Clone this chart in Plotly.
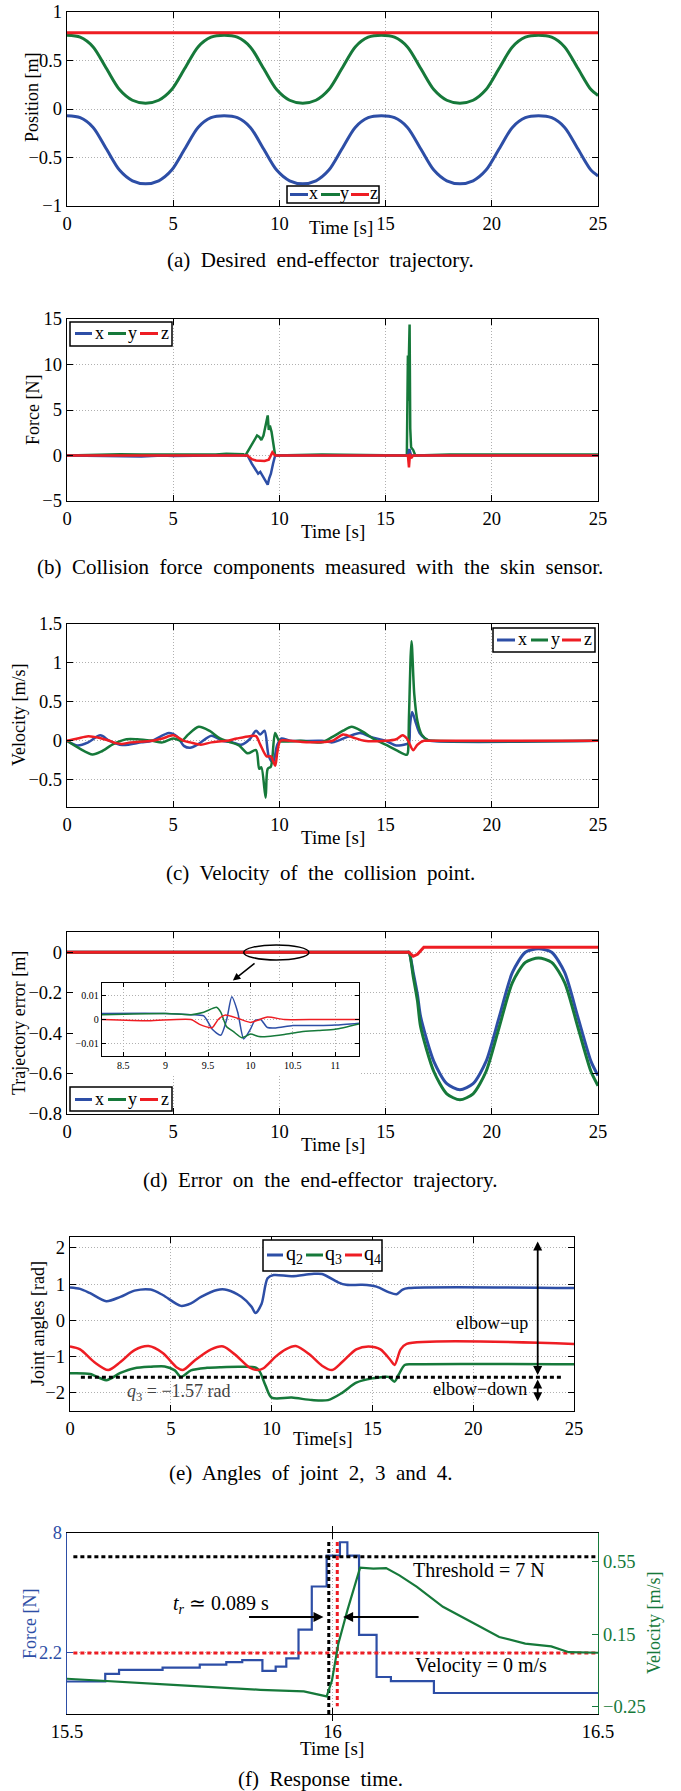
import plotly.graph_objects as go

W, H = 681, 1791
FONT = "Liberation Serif, Times New Roman, serif"
BLUE = "#2d4ea6"
GREEN = "#16793a"
RED = "#ee1d23"
GRID = "#b0b0b0"

# ---------------- (a) desired trajectory ----------------
ta = [0, 0.62, 1.23, 1.85, 2.47, 3.08, 3.70, 4.32, 4.93, 5.55, 6.17, 6.78,
      7.40, 8.02, 8.63, 9.25, 9.87, 10.48, 11.10, 11.72, 12.33, 12.95, 13.57, 14.18,
      14.80, 15.42, 16.03, 16.65, 17.27, 17.88, 18.50, 19.12, 19.73, 20.35, 20.97, 21.58,
      22.20, 22.82, 23.43, 24.05, 24.67, 25.0]
ya_y = [0.76, 0.74, 0.64, 0.42, 0.20, 0.09, 0.06, 0.09, 0.20, 0.42, 0.64, 0.74,
        0.76, 0.74, 0.64, 0.42, 0.20, 0.09, 0.06, 0.09, 0.20, 0.42, 0.64, 0.74,
        0.76, 0.74, 0.64, 0.42, 0.20, 0.09, 0.06, 0.09, 0.20, 0.42, 0.64, 0.74,
        0.76, 0.74, 0.64, 0.42, 0.20, 0.14]
ya_x = [-0.07, -0.09, -0.19, -0.41, -0.63, -0.74, -0.77, -0.74, -0.63, -0.41, -0.19, -0.09,
        -0.07, -0.09, -0.19, -0.41, -0.63, -0.74, -0.77, -0.74, -0.63, -0.41, -0.19, -0.09,
        -0.07, -0.09, -0.19, -0.41, -0.63, -0.74, -0.77, -0.74, -0.63, -0.41, -0.19, -0.09,
        -0.07, -0.09, -0.19, -0.41, -0.63, -0.69]
ta_z = [0, 25]
ya_z = [0.785, 0.785]

# ---------------- (b) collision force ----------------
fb_tx = [0, 2.5, 3.5, 4.5, 5.0, 7.0, 8.5, 8.7, 8.9, 9.0, 9.1, 9.2, 9.35, 9.45, 9.52, 9.6, 9.7, 9.8,
         10.5, 16.05, 16.12, 16.2, 25]
fb_x = [0, -0.1, -0.1, 0, -0.05, 0, 0, -0.9, -1.6, -2.0, -1.8, -2.2, -2.9, -3.2, -2.5, -2.0, -0.9, 0,
        0, 0, 0.7, 0, 0]
fb_ty = [0, 2.5, 3.5, 4.5, 5.5, 7.0, 7.5, 8.3, 8.4, 8.6, 8.8, 8.95, 9.05, 9.15, 9.25, 9.35, 9.45,
         9.5, 9.55, 9.63, 9.72, 9.8, 12.0, 16.0, 16.05, 16.08, 16.1, 16.13, 16.16, 16.2, 16.3,
         16.4, 18.0, 25]
fb_y = [0, 0.15, 0.1, 0.1, 0.1, 0.1, 0.2, 0.15, 0, 0.8, 1.5, 2.2, 2.05, 1.7, 2.2, 3.5, 4.4,
        2.8, 3.3, 2.6, 0.95, 0, 0.1, 0, 11.0, 6.0, 11.2, 14.4, 3.0, 0.9, 0.6,
        0, 0.1, 0.1]
fb_tz = [0, 8.5, 8.7, 8.9, 9.3, 9.5, 9.67, 9.8, 16.05, 16.1, 16.15, 16.2, 16.3, 25]
fb_z = [0, 0, -0.4, -0.55, -0.6, -0.45, 0.35, 0, 0, -1.3, 0.2, -0.3, 0, 0]

# ---------------- (c) velocity ----------------
vc_tx = [0, 0.5, 1.0, 1.57, 2.0, 2.6, 3.5, 4.0, 4.8, 5.2, 5.5, 5.8, 6.2, 6.8, 7.3, 7.8, 8.2,
         8.6, 8.9, 9.1, 9.3, 9.5, 9.7, 9.9, 10.1, 10.5, 12.0, 12.5, 13.2, 13.8, 14.3, 15.0,
         15.5, 16.0, 16.1, 16.15, 16.25, 16.4, 16.6, 16.9, 17.1, 25]
vc_x = [0, -0.06, -0.02, 0.07, 0, -0.055, -0.02, 0, 0.10, 0.05, -0.065, -0.09, -0.04, 0.065, 0,
        -0.02, -0.05, 0.02, 0.13, 0.08, 0.13, -0.2, -0.28, -0.05, 0.03, 0, 0, -0.02, 0.05, 0.10,
        0.05, 0, -0.06, -0.04, -0.03, 0.2, 0.37, 0.25, 0.10, 0.02, 0, 0]
vc_ty = [0, 0.6, 1.2, 1.6, 2.2, 2.8, 3.3, 4.0, 4.5, 5.0, 5.4, 5.7, 6.2, 6.7, 7.2, 7.6, 8.1, 8.5,
         8.9, 9.05, 9.15, 9.35, 9.45, 9.6, 9.8, 10.0, 11.0, 12.0, 12.5, 13.0, 13.4, 13.9, 14.4,
         15.0, 15.5, 16.0, 16.05, 16.1, 16.22, 16.35, 16.5, 16.7, 17.0, 17.3, 25]
vc_y = [0, -0.1, -0.175, -0.14, -0.04, 0.02, 0.02, 0, -0.02, 0.03, 0.0, 0.08, 0.18, 0.13, 0.03,
        -0.01, -0.06, -0.16, -0.12, -0.36, -0.34, -0.73, -0.36, -0.33, 0.1, 0, 0, -0.02, 0.05,
        0.13, 0.18, 0.12, 0.03, -0.05, -0.12, -0.18, -0.15, 0.3, 1.28, 0.6, 0.25, 0.08, 0.01,
        0, 0]
vc_tz = [0, 0.5, 1.0, 1.5, 2.0, 2.3, 2.6, 3.0, 4.0, 4.5, 5.0, 5.5, 5.8, 6.3, 6.8, 7.5, 8.0,
         8.6, 8.9, 9.1, 9.4, 9.6, 9.8, 9.9, 10.05, 10.5, 11.5, 12.5, 13.0, 13.5, 14.0, 15.0,
         15.5, 15.8, 16.0, 16.1, 16.3, 16.5, 16.8, 17.0, 25]
vc_z = [0, 0.03, 0.06, 0.04, 0, -0.03, -0.04, -0.02, 0, 0.03, 0.07, 0.0, -0.02, -0.05, -0.02,
        0, 0.03, 0.06, 0.06, -0.05, -0.2, -0.2, -0.32, -0.15, 0, 0, -0.02, 0, 0.08, 0.04, 0,
        0, 0.02, 0.07, 0.03, -0.02, -0.12, -0.05, 0, 0, 0]

# ---------------- (d) trajectory error ----------------
ed_t = [0, 9.4, 16.0, 16.1, 16.3, 16.5, 16.65, 17.27, 17.88, 18.50, 19.12, 19.73, 20.35, 20.97,
        21.58, 22.20, 22.82, 23.43, 24.05, 24.67, 25.0]
ed_x = [0, 0, 0, 0, -0.1, -0.21, -0.32, -0.54, -0.65, -0.68, -0.65, -0.54, -0.32, -0.10,
        0.0, 0.017, 0.0, -0.10, -0.32, -0.54, -0.61]
ed_y = [0, 0, 0, 0, -0.12, -0.24, -0.37, -0.59, -0.70, -0.73, -0.70, -0.59, -0.37, -0.15,
        -0.05, -0.028, -0.05, -0.15, -0.37, -0.59, -0.66]
ed_tz = [0, 16.1, 16.3, 16.5, 16.8, 25]
ed_z = [0, 0, -0.02, -0.01, 0.025, 0.025]

# inset (zoom 8.25 - 11.28 s)
in_tx = [8.25, 9.0, 9.3, 9.45, 9.55, 9.65, 9.72, 9.78, 9.85, 9.92, 10.0, 10.05, 10.12, 10.2,
         10.3, 10.5, 10.8, 11.0, 11.28]
in_x = [0.0025, 0.0025, 0.002, 0.0015, -0.004, -0.0065, 0.0, 0.0093, 0.003, -0.008, -0.004,
        -0.0005, 0.0, -0.0033, -0.0035, -0.0025, -0.0025, -0.0023, -0.0015]
in_ty = [8.25, 9.0, 9.3, 9.45, 9.6, 9.65, 9.72, 9.8, 9.9, 10.0, 10.1, 10.2, 10.4, 10.6, 10.8,
         11.0, 11.28]
in_y = [0.002, 0.0025, 0.002, 0.003, 0.005, 0.003, -0.003, -0.005, -0.0075, -0.006, -0.007,
        -0.007, -0.0062, -0.005, -0.0045, -0.004, -0.0018]
in_tz = [8.25, 8.8, 9.3, 9.4, 9.55, 9.62, 9.7, 9.85, 10.0, 10.2, 10.4, 10.8, 11.28]
in_z = [0.0, -0.0005, 0.0, -0.002, -0.0033, 0.0, 0.0018, 0.0005, -0.0012, 0.001, 0.0, 0.0, 0.0]

# ---------------- (e) joint angles ----------------
q2_t = [0, 0.5, 1.0, 1.8, 2.5, 3.2, 4.0, 4.6, 5.5, 6.0, 6.5, 7.3, 7.8, 8.5, 9.0, 9.2, 9.5, 9.8,
        10.1, 11.0, 12.0, 12.5, 13.3, 13.7, 14.5, 15.2, 15.8, 16.2, 16.5, 16.8, 25]
q2 = [0.91, 0.87, 0.75, 0.53, 0.65, 0.82, 0.85, 0.70, 0.40, 0.47, 0.65, 0.84, 0.84, 0.65, 0.38,
      0.20, 0.45, 1.16, 1.25, 1.22, 1.28, 1.28, 1.05, 0.98, 0.98, 0.93, 0.78, 0.72, 0.85, 0.89,
      0.89]
q3_t = [0, 1.0, 1.8, 2.5, 3.2, 4.0, 4.7, 5.2, 5.5, 6.0, 6.8, 7.5, 8.5, 9.2, 9.4, 9.7, 10.0, 11.0,
        12.0, 12.8, 13.5, 14.2, 15.0, 15.8, 16.1, 16.3, 16.6, 17.0, 25]
q3 = [-1.46, -1.48, -1.65, -1.45, -1.32, -1.28, -1.27, -1.38, -1.56, -1.38, -1.31, -1.29, -1.28,
      -1.30, -1.40, -1.80, -2.13, -2.13, -2.20, -2.20, -2.00, -1.72, -1.60, -1.56, -1.69, -1.50,
      -1.23, -1.21, -1.21]
q4_t = [0, 0.5, 1.2, 1.9, 2.5, 3.2, 3.9, 4.6, 5.3, 5.6, 6.2, 7.0, 7.6, 8.2, 8.9, 9.3, 9.6, 10.2,
        10.7, 11.2, 11.9, 12.5, 13.0, 13.5, 14.2, 14.8, 15.4, 15.9, 16.1, 16.4, 16.7, 25]
q4 = [-0.72, -0.80, -1.15, -1.37, -1.15, -0.82, -0.71, -0.90, -1.30, -1.37, -1.10, -0.80, -0.72,
      -0.95, -1.30, -1.37, -1.32, -1.00, -0.80, -0.71, -0.95, -1.25, -1.37, -1.15, -0.80, -0.72,
      -0.80, -1.10, -1.23, -0.80, -0.65, -0.65]
q3_limit_t = [0.54, 24.46]
q3_limit = [-1.57, -1.57]

# ---------------- (f) response time ----------------
rf_t = [15.5, 15.572, 15.598, 15.68, 15.75, 15.80, 15.83, 15.868, 15.893, 15.913, 15.936, 15.961,
        15.989, 16.014, 16.028, 16.05, 16.083, 16.11, 16.191, 16.5]
rf_force = [0.78, 1.15, 1.35, 1.45, 1.6, 1.72, 1.82, 1.3, 1.5, 1.9, 3.3, 5.4, 6.9, 7.55, 6.9,
            3.05, 1.0, 0.8, 0.22, 0.2]
rv_t = [15.5, 15.57, 15.70, 15.864, 15.946, 15.989, 15.999, 16.011, 16.028, 16.052, 16.077,
        16.101, 16.126, 16.159, 16.208, 16.273, 16.314, 16.363, 16.412, 16.445, 16.5]
rv_vel = [-0.096, -0.109, -0.13, -0.157, -0.166, -0.193, -0.105, 0.097, 0.28, 0.515, 0.51, 0.513,
          0.473, 0.41, 0.30, 0.198, 0.134, 0.097, 0.082, 0.05, 0.047]
thr_t = [15.512, 16.5]
thr_force = [6.85, 6.85]
zero_t = [15.512, 16.5]
zero_force = [2.17, 2.17]
vline_black_t = [15.993, 15.993]
vline_black_f = [7.56, -0.8]
vline_red_t = [16.009, 16.009]
vline_red_f = [7.56, -0.42]


# ---------------- layout helpers ----------------
def dom_x(l, r):
    return [l / W, r / W]


def dom_y(t, b):
    return [1 - b / H, 1 - t / H]


def px(x):
    return x / W


def py(y):
    return 1 - y / H


TICK = 18.5
CAP = 21

fig = go.Figure()
layout = dict(template="none", width=W, height=H, margin=dict(l=0, r=0, t=0, b=0, pad=0),
              paper_bgcolor="white", plot_bgcolor="white", showlegend=False,
              font=dict(family=FONT, size=18, color="black"))
shapes, annots = [], []


def axis(domain, rng, anchor, dtick=None, tickvals=None, fs=TICK, color="black", grid=True,
         mirror="allticks", ticklen=6):
    d = dict(domain=domain, range=rng, anchor=anchor, showline=True, linecolor=color,
             linewidth=1.3, mirror=mirror, ticks="inside", ticklen=ticklen, tickcolor=color,
             tickwidth=1, showgrid=grid, gridcolor=GRID, griddash="1px,2px", gridwidth=1,
             zeroline=False, automargin=False,
             tickfont=dict(family=FONT, size=fs, color=color), fixedrange=True)
    if dtick is not None:
        d["dtick"] = dtick
        d["tick0"] = 0
    if tickvals is not None:
        d["tickvals"] = tickvals
    return d


def line(x, y, color, xa, ya, width=2.5, shape="spline", smoothing=0.8, dash=None):
    ln = dict(color=color, width=width, shape=shape)
    if shape == "spline":
        ln["smoothing"] = smoothing
    if dash:
        ln["dash"] = dash
    fig.add_trace(go.Scatter(x=x, y=y, mode="lines", line=ln, xaxis=xa, yaxis=ya,
                             hoverinfo="skip", showlegend=False))


def text(x, y, s, size=18, color="black", angle=0, xanchor="center", xref="paper",
         yref="paper"):
    if xref == "paper":
        x = px(x)
    if yref == "paper":
        y = py(y)
    annots.append(dict(x=x, y=y, xref=xref, yref=yref, text=s, showarrow=False,
                       textangle=angle, xanchor=xanchor, yanchor="middle",
                       font=dict(family=FONT, size=size, color=color)))


def legend(box, items, size=18):
    x0, y0, x1, y1 = box
    shapes.append(dict(type="rect", xref="paper", yref="paper", x0=px(x0), x1=px(x1),
                       y0=py(y1), y1=py(y0), line=dict(color="black", width=1.5),
                       fillcolor="white", layer="above"))
    for lx0, lx1, ly, col, tx, s in items:
        shapes.append(dict(type="line", xref="paper", yref="paper", x0=px(lx0), x1=px(lx1),
                           y0=py(ly), y1=py(ly), line=dict(color=col, width=3), layer="above"))
        text(tx, ly - 1, s, size=size)


# (a)
layout["xaxis"] = axis(dom_x(67, 598), [0, 25], "y", dtick=5)
layout["yaxis"] = axis(dom_y(12, 206), [-1, 1], "x", dtick=0.5)
line(ta, ya_x, BLUE, "x", "y", 3)
line(ta, ya_y, GREEN, "x", "y", 3)
line(ta_z, ya_z, RED, "x", "y", 3, shape="linear")
legend((287, 186, 379, 203), [(290, 308, 194.5, BLUE, 313.5, "x"),
                              (321, 340, 194.5, GREEN, 344, "y"),
                              (351, 369, 194.5, RED, 373.5, "z")])
text(341, 227, "Time [s]", size=19)
text(32, 97, "Position [m]", angle=-90)
text(320, 260, "(a)  Desired  end-effector  trajectory.", size=CAP)

# (b)
layout["xaxis2"] = axis(dom_x(67, 598), [0, 25], "y2", dtick=5)
layout["yaxis2"] = axis(dom_y(319, 501), [-5, 15], "x2", dtick=5)
line(fb_ty, fb_y, GREEN, "x2", "y2", 2.5, shape="linear")
line(fb_tx, fb_x, BLUE, "x2", "y2", 2.5, shape="linear")
line(fb_tz, fb_z, RED, "x2", "y2", 2.5, shape="linear")
legend((70, 322, 172, 346), [(75, 92, 333.5, BLUE, 99, "x"),
                             (108, 126, 333.5, GREEN, 132, "y"),
                             (140, 158, 333.5, RED, 165, "z")])
text(333, 531, "Time [s]", size=19)
text(33, 410, "Force [N]", angle=-90)
text(320, 567, "(b)  Collision  force  components  measured  with  the  skin  sensor.", size=CAP)

# (c)
layout["xaxis3"] = axis(dom_x(67, 598), [0, 25], "y3", dtick=5)
layout["yaxis3"] = axis(dom_y(624, 807), [-0.85, 1.5], "x3", dtick=0.5)
line(vc_tx, vc_x, BLUE, "x3", "y3", 2.5)
line(vc_ty, vc_y, GREEN, "x3", "y3", 2.5)
line(vc_tz, vc_z, RED, "x3", "y3", 2.5)
legend((493, 628, 595, 652), [(497, 515, 640, BLUE, 522, "x"),
                              (531, 548, 640, GREEN, 555, "y"),
                              (562, 581, 640, RED, 588, "z")])
text(333, 838, "Time [s]", size=19)
text(19, 715, "Velocity [m/s]", angle=-90)
text(320, 873, "(c)  Velocity  of  the  collision  point.", size=CAP)

# (d)
D_L, D_R, D_T, D_B = 67, 598, 932, 1114
D_X, D_Y = [0, 25], [-0.8, 0.1]
layout["xaxis4"] = axis(dom_x(D_L, D_R), D_X, "y4", dtick=5)
layout["yaxis4"] = axis(dom_y(D_T, D_B), D_Y, "x4", dtick=0.2)
line(ed_t, ed_x, BLUE, "x4", "y4", 3, smoothing=0.7)
line(ed_t, ed_y, GREEN, "x4", "y4", 3, smoothing=0.7)
line(ed_tz, ed_z, RED, "x4", "y4", 3, shape="linear")


def d_xdata(p):
    return D_X[0] + (p - D_L) / (D_R - D_L) * (D_X[1] - D_X[0])


def d_ydata(p):
    return D_Y[1] - (p - D_T) / (D_B - D_T) * (D_Y[1] - D_Y[0])


I_L, I_R, I_T, I_B = 102, 359, 983, 1056
shapes.append(dict(type="rect", xref="x4", yref="y4", x0=d_xdata(I_L - 40), x1=d_xdata(I_R + 2),
                   y0=d_ydata(I_B + 18), y1=d_ydata(I_T - 2), fillcolor="white",
                   line=dict(width=0), layer="between"))
layout["xaxis7"] = axis(dom_x(I_L, I_R), [8.25, 11.28], "y7", tickvals=[8.5, 9, 9.5, 10, 10.5, 11],
                        fs=10, ticklen=4)
layout["yaxis7"] = axis(dom_y(I_T, I_B), [-0.015, 0.015], "x7", tickvals=[-0.01, 0, 0.01],
                        fs=10, ticklen=4)
line(in_tx, in_x, BLUE, "x7", "y7", 1.5, smoothing=0.6)
line(in_ty, in_y, GREEN, "x7", "y7", 1.5, smoothing=0.6)
line(in_tz, in_z, RED, "x7", "y7", 1.5, smoothing=0.6)
shapes.append(dict(type="circle", xref="x4", yref="y4", x0=8.32, x1=11.39, y0=-0.038, y1=0.036,
                   line=dict(color="black", width=1.5)))
annots.append(dict(x=7.81, y=-0.14, ax=8.9, ay=-0.049, xref="x4", yref="y4", axref="x4",
                   ayref="y4", text="", showarrow=True, arrowhead=2, arrowsize=1,
                   arrowwidth=1.5, arrowcolor="black"))
legend((70, 1087, 172, 1111), [(75, 92, 1099.5, BLUE, 99, "x"),
                               (108, 126, 1099.5, GREEN, 132, "y"),
                               (140, 158, 1099.5, RED, 165, "z")])
text(333, 1144, "Time [s]", size=19)
text(19, 1023, "Trajectory error [m]", angle=-90)
text(320, 1180, "(d)  Error  on  the  end-effector  trajectory.", size=CAP)

# (e)
layout["xaxis5"] = axis(dom_x(70, 574), [0, 25], "y5", dtick=5)
layout["yaxis5"] = axis(dom_y(1237, 1411), [-2.5, 2.3], "x5", dtick=1)
line(q2_t, q2, BLUE, "x5", "y5", 2.5)
line(q3_t, q3, GREEN, "x5", "y5", 2.5)
line(q4_t, q4, RED, "x5", "y5", 2.5)
line(q3_limit_t, q3_limit, "black", "x5", "y5", 3, shape="linear", dash="4px,3px")
for (ya0, ya1) in [(-1.51, 2.22), (-1.63, -2.27)]:
    annots.append(dict(x=23.2, y=ya0, ax=23.2, ay=ya1, xref="x5", yref="y5", axref="x5",
                       ayref="y5", text="", showarrow=True, arrowhead=2, startarrowhead=2,
                       arrowside="end+start", arrowsize=1, arrowwidth=1.8, arrowcolor="black"))
text(20.93, -0.06, "elbow\u2212up", xref="x5", yref="y5")
text(20.34, -1.9, "elbow\u2212down", xref="x5", yref="y5")
text(5.43, -2.0, "<i>q</i><sub>3</sub> = \u22121.57 rad", color="#444444", xref="x5", yref="y5")
legend((263, 1240, 382, 1271), [(267, 283, 1255, BLUE, 294, "q<sub>2</sub>"),
                                (306, 323, 1255, GREEN, 333, "q<sub>3</sub>"),
                                (345, 362, 1255, RED, 372, "q<sub>4</sub>")], size=20)
text(322, 1438, "Time[s]", size=19)
text(38, 1324, "Joint angles [rad]", angle=-90)
text(310, 1473, "(e)  Angles  of  joint  2,  3  and  4.", size=CAP)

# (f)
layout["xaxis6"] = axis(dom_x(67, 598), [15.5, 16.5], "y6", tickvals=[15.5, 16, 16.5])
layout["yaxis6"] = axis(dom_y(1533, 1714), [-0.8, 8], "x6", tickvals=[2.2, 8], color=BLUE,
                        mirror=False)
layout["yaxis8"] = axis(dom_y(1533, 1714), [-0.29, 0.706], "x6",
                        tickvals=[-0.25, 0.15, 0.55], color=GREEN, grid=False, mirror=False)
layout["yaxis8"].update(overlaying="y6", side="right")
line(rf_t, rf_force, BLUE, "x6", "y6", 2.2, shape="hv")
line(thr_t, thr_force, "black", "x6", "y6", 3, shape="linear", dash="4px,3px")
line(zero_t, zero_force, RED, "x6", "y6", 3, shape="linear", dash="4px,3px")
line(vline_black_t, vline_black_f, "black", "x6", "y6", 3, shape="linear", dash="4px,3px")
line(vline_red_t, vline_red_f, RED, "x6", "y6", 3, shape="linear", dash="4px,3px")
line(rv_t, rv_vel, GREEN, "x6", "y8", 2.2, shape="linear")
annots.append(dict(x=15.983, y=3.91, ax=15.84, ay=3.91, xref="x6", yref="y6", axref="x6",
                   ayref="y6", text="", showarrow=True, arrowhead=2, arrowsize=1,
                   arrowwidth=2, arrowcolor="black"))
annots.append(dict(x=16.02, y=3.91, ax=16.165, ay=3.91, xref="x6", yref="y6", axref="x6",
                   ayref="y6", text="", showarrow=True, arrowhead=2, arrowsize=1,
                   arrowwidth=2, arrowcolor="black"))
text(15.79, 4.5, "<i>t<sub>r</sub></i> \u2243 0.089 s", size=20, xref="x6", yref="y6")
text(16.276, 6.19, "Threshold = 7 N", size=20, xref="x6", yref="y6")
text(16.28, 1.55, "Velocity = 0 m/s", size=20, xref="x6", yref="y6")
text(332, 1748, "Time [s]", size=19)
text(30, 1624, "Force [N]", angle=-90, color=BLUE)
text(654, 1623, "Velocity [m/s]", angle=-90, color=GREEN)
text(320, 1779, "(f)  Response  time.", size=CAP)

layout["shapes"] = shapes
layout["annotations"] = annots
fig.update_layout(**layout)
fig.write_html("out.html", config={"displayModeBar": False, "staticPlot": True},
               post_script="document.body.style.margin='0px';"
                           "document.body.style.padding='0px';"
                           "document.body.style.overflow='hidden';")
